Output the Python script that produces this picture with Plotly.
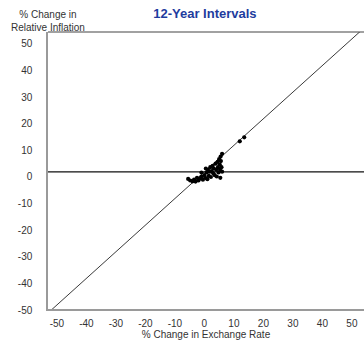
import plotly.graph_objects as go

# Scatter data: % change in exchange rate (x) vs % change in relative inflation (y)
exch = [-5.5, -4.8, -4.0, -3.5, -3.0, -2.5, -2.0, -1.5, -1.0, -0.5, 0.0, 0.3, 0.8, 1.0,
        1.2, 1.5, 1.8, 2.0, 2.2, 2.5, 2.8, 3.0, 3.2, 3.5, 3.8, 4.0, 4.2, 4.5, 4.6, 4.8,
        5.0, 5.2, 5.3, 5.5, 5.6, 5.8, 6.0, 6.0, 5.4, -1.0, 0.5, 12.0, 13.5]
infl = [-2.6, -3.2, -3.5, -2.9, -3.6, -2.2, -3.2, -2.5, -1.7, -2.9, -1.2, -2.2, -0.2, -2.7,
        0.8, -1.5, 0.1, 1.8, -1.9, 0.3, 2.3, -0.5, 1.3, -1.2, 3.1, 0.8, -1.7, 3.8, 1.8, -0.2,
        4.8, 2.8, 0.8, 5.8, 4.1, 1.8, 6.8, 0.1, -2.2, -0.2, 1.3, 11.5, 13.0]

x_ticks = [-50, -40, -30, -20, -10, 0, 10, 20, 30, 40, 50]
y_ticks = [-50, -40, -30, -20, -10, 0, 10, 20, 30, 40, 50]
tick_text = ["-50", "-40", "-30", "-20", "-10", "0", "10", "20", "30", "40", "50"]
x_range = [-53, 54.1]
y_range = [-51.5, 52.6]
ref_line = [-60, 60]  # y = x parity line
title = "12-Year Intervals"
x_title = "% Change in Exchange Rate"
y_title = "% Change in<br>Relative Inflation"

fig = go.Figure()
fig.add_trace(go.Scatter(x=ref_line, y=ref_line, mode="lines",
                         line=dict(color="#3a3a3a", width=1), hoverinfo="skip"))
fig.add_trace(go.Scatter(x=ref_line, y=[0, 0], mode="lines",
                         line=dict(color="#111111", width=1.2), hoverinfo="skip"))
fig.add_trace(go.Scatter(x=exch, y=infl, mode="markers",
                         marker=dict(color="#000000", size=4.2)))

font = dict(family="Liberation Sans, Arial, sans-serif", size=10, color="#333333")
fig.update_layout(
    width=364, height=344,
    margin=dict(l=48, r=0, t=32, b=35, autoexpand=False),
    paper_bgcolor="white", plot_bgcolor="white",
    showlegend=False,
    font=font,
    title=dict(text="<b>" + title + "</b>", x=0.563, xanchor="center", y=0.962, yanchor="middle",
               font=dict(family="Liberation Sans, Arial, sans-serif", size=13, color="#1e3c9e")),
    xaxis=dict(range=x_range, tickvals=x_ticks, ticktext=tick_text, showgrid=False, zeroline=False,
               showline=True, linecolor="#9a9a9a", linewidth=1.5, ticks="",
               ticklabelstandoff=4, automargin=False,
               title=dict(text=x_title, standoff=2, font=dict(size=10, color="#333333"))),
    yaxis=dict(range=y_range, tickvals=y_ticks, ticktext=tick_text, showgrid=False, zeroline=False,
               showline=True, linecolor="#9a9a9a", linewidth=1.5, ticks="",
               ticklabelstandoff=12, ticklabelshift=5, automargin=False),
    annotations=[dict(text=y_title, xref="paper", yref="paper", x=0, y=1.0, yshift=-3,
                      xanchor="center", yanchor="bottom", showarrow=False,
                      font=dict(size=10, color="#333333"), align="center")],
    shapes=[dict(type="line", xref="paper", yref="paper", x0=0, x1=1, y0=1, y1=1,
                 line=dict(color="#444444", width=1.2))],
)

fig.write_html("out.html", config={"displayModeBar": False},
               post_script="document.body.style.margin='0';document.body.style.overflow='hidden';")
